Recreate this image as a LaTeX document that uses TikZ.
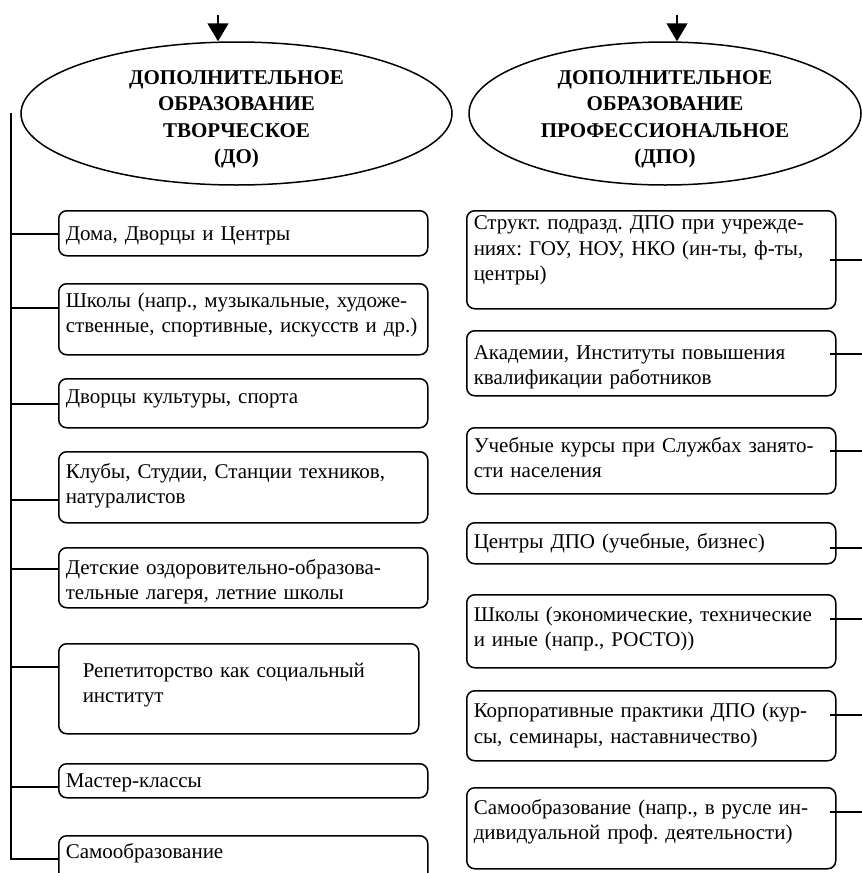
\documentclass[tikz,border=0pt]{standalone}
\usepackage{fontspec}
\setmainfont{Liberation Serif}
\usetikzlibrary{arrows.meta}
\usetikzlibrary{shapes.geometric}
\frenchspacing

\tikzset{
  oval/.style={ellipse, draw, line width=1.5pt, inner sep=0pt, minimum height=143pt},
  title/.style={align=center, inner sep=0pt, font=\bfseries\fontsize{21}{26.5}\selectfont},
  orgbox/.style={draw, line width=1.5pt, rounded corners=8pt, anchor=north west,
    inner ysep=0pt, inner xsep=7pt, text width=355pt, align=left,
    font=\fontsize{21}{25.5}\selectfont},
  link/.style={line width=1.5pt},
  feed/.style={line width=1.5pt, -{Triangle[width=21pt,length=18pt]}},
}

\begin{document}
\begin{tikzpicture}[x=1pt,y=-1pt]
	\useasboundingbox (0,0) rectangle (862,873);

	% two branches
	\node[oval, minimum width=431pt] (do) at (236.5,113.5) {};
	\node[title] (dotitle) at ([yshift=-6pt]do.center)
	{ДОПОЛНИТЕЛЬНОЕ\\ОБРАЗОВАНИЕ\\ТВОРЧЕСКОЕ\\(ДО)};
	\node[oval, minimum width=392pt] (dpo) at (665,113.5) {};
	\node[title] (dpotitle) at ([yshift=-6pt]dpo.center)
	{ДОПОЛНИТЕЛЬНОЕ\\ОБРАЗОВАНИЕ\\ПРОФЕССИОНАЛЬНОЕ\\(ДПО)};

	\coordinate (in1) at (218,15);
	\coordinate (in2) at (677,15);
	\draw[feed] (in1) -- (in1 |- do.north);
	\draw[feed] (in2) -- (in2 |- dpo.north);

	% left column
	\node[orgbox, text height=29.5pt, text depth=15.5pt] (do1) at (58,210)
	{Дома, Дворцы и Центры};
	\node[orgbox, text height=23.5pt, text depth=47.5pt] (do2) at (58,283)
	{Школы (напр., музыкальные, художе-\\ственные, спортивные, искусств и др.)};
	\node[orgbox, text height=25pt, text depth=24pt] (do3) at (58,378)
	{Дворцы культуры, спорта};
	\node[orgbox, text height=26.5pt, text depth=44.5pt] (do4) at (58,451)
	{Клубы, Студии, Станции техников,\\натуралистов};
	\node[orgbox, text height=26.5pt, text depth=33.5pt] (do5) at (58,547)
	{Детские оздоровительно-образова-\\тельные лагеря, летние школы};
	\node[orgbox, inner xsep=24pt, text width=312pt, text height=33.5pt, text depth=56.5pt] (do6) at (58,643)
	{Репетиторство как социальный\\институт};
	\node[orgbox, text height=24pt, text depth=10pt] (do7) at (58,763)
	{Мастер-классы};
	\node[orgbox, text height=23pt, text depth=23pt] (do8) at (58,835)
	{Самообразование};

	\coordinate (trunk) at (11,113);
	\draw[link] (trunk) |- (do8.west);
	\foreach \n/\s in {do1/-0.5,do2/11.5,do3/-0.5,do4/-12.5,do5/9,do6/22,do7/-6}
		\draw[link] ([yshift=\s pt]\n.west) -- ([yshift=\s pt]\n.west -| trunk);

	% right column
	\node[orgbox, text height=19pt, text depth=79pt] (dpo1) at (466,210)
	{Структ. подразд. ДПО при учрежде-\\ниях: ГОУ, НОУ, НКО (ин-ты, ф-ты,\\центры)};
	\node[orgbox, text height=28.5pt, text depth=36.5pt] (dpo2) at (466,330)
	{Академии, Институты повышения\\квалификации работников};
	\node[orgbox, text height=24.5pt, text depth=41.5pt] (dpo3) at (466,427)
	{Учебные курсы при Службах занято-\\сти населения};
	\node[orgbox, text height=25.5pt, text depth=15.5pt] (dpo4) at (466,522)
	{Центры ДПО (учебные, бизнес)};
	\node[orgbox, text height=26.5pt, text depth=46.5pt] (dpo5) at (466,594)
	{Школы (экономические, технические\\и иные (напр., РОСТО))};
	\node[orgbox, text height=27pt, text depth=43pt] (dpo6) at (466,690)
	{Корпоративные практики ДПО (кур-\\сы, семинары, наставничество)};
	\node[orgbox, text height=26.5pt, text depth=54.5pt] (dpo7) at (466,787)
	{Самообразование (напр., в русле ин-\\дивидуальной проф. деятельности)};

	\coordinate (edge) at (866,0);
	\foreach \n/\s in {dpo1/0,dpo2/9.5,dpo3/10,dpo4/-4.5,dpo5/12.5,dpo6/11,dpo7/16.5}
		\draw[link] ([xshift=-7pt,yshift=\s pt]\n.east) -- ([yshift=\s pt]\n.east -| edge);
\end{tikzpicture}
\end{document}
